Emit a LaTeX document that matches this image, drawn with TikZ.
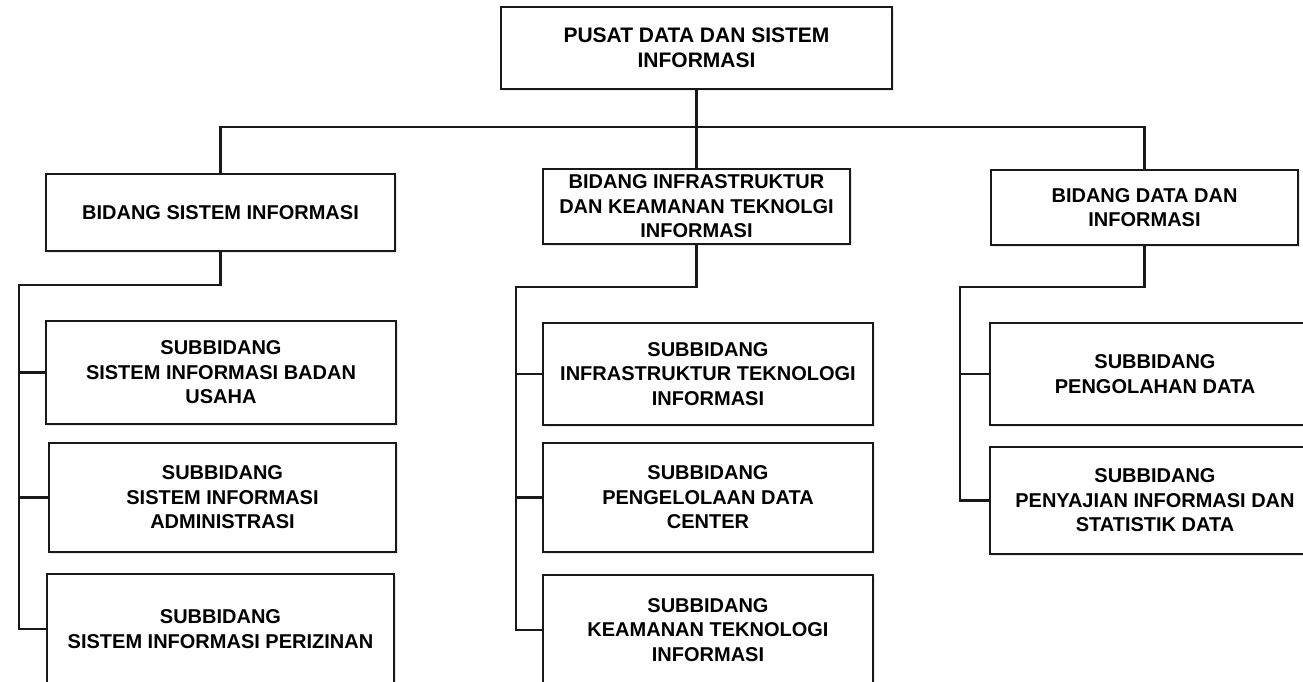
\documentclass[tikz,border=0pt]{standalone}
\usepackage{fontspec}
\setmainfont{Liberation Sans}
\usetikzlibrary{shadows}

\tikzset{
  unitbox/.style={draw=black!90, line width = 2.1pt, fill=white, align=center, inner sep=0pt,
    font=\bfseries\fontsize{20}{24.5}\selectfont,
    drop shadow={opacity=.18, shadow xshift=1.5pt, shadow yshift=-1.5pt}},
  link/.style={draw=black!90, line width = 2.1pt},
}

\begin{document}
\begin{tikzpicture}[x=1pt,y=-1pt]
\useasboundingbox (0,0) rectangle (1303,681);
\clip (0,0) rectangle (1303,681);

% top and bidang level
\node[unitbox, minimum width=391pt, minimum height=82pt, font=\bfseries\fontsize{21}{25}\selectfont] (pusat) at (696.5,48) {PUSAT DATA DAN SISTEM\\INFORMASI};
\node[unitbox, minimum width=349pt, minimum height=77pt] (bsi) at (220.5,212.5) {BIDANG SISTEM INFORMASI};
\node[unitbox, minimum width=307pt, minimum height=75pt] (bikti) at (696.5,206.5) {BIDANG INFRASTRUKTUR\\DAN KEAMANAN TEKNOLGI\\INFORMASI};
\node[unitbox, minimum width=307pt, minimum height=75pt] (bdi) at (1144.5,207.5) {BIDANG DATA DAN\\INFORMASI};

% subbidang, left
\node[unitbox, minimum width=350pt, minimum height=103pt] (si1) at (221,372.5) {SUBBIDANG\\SISTEM INFORMASI BADAN\\USAHA};
\node[unitbox, minimum width=347pt, minimum height=109pt] (si2) at (222.5,497.5) {SUBBIDANG\\SISTEM INFORMASI\\ADMINISTRASI};
\node[unitbox, minimum width=347pt, minimum height=110pt] (si3) at (220.5,629) {SUBBIDANG\\SISTEM INFORMASI PERIZINAN};

% subbidang, middle
\node[unitbox, minimum width=330pt, minimum height=102pt] (it1) at (708,374) {SUBBIDANG\\INFRASTRUKTUR TEKNOLOGI\\INFORMASI};
\node[unitbox, minimum width=330pt, minimum height=109pt] (it2) at (708,497.5) {SUBBIDANG\\PENGELOLAAN DATA\\CENTER};
\node[unitbox, minimum width=330pt, minimum height=110pt] (it3) at (708,630) {SUBBIDANG\\KEAMANAN TEKNOLOGI\\INFORMASI};

% subbidang, right
\node[unitbox, minimum width=330pt, minimum height=102pt] (di1) at (1155,374) {SUBBIDANG\\PENGOLAHAN DATA};
\node[unitbox, minimum width=330pt, minimum height=107pt] (di2) at (1155,500.5) {SUBBIDANG\\PENYAJIAN INFORMASI DAN\\STATISTIK DATA};

% connectors
\coordinate (bus) at (696.5,127.3);
\draw[link] (bsi.north) |- (bus) -| (bdi.north);
\draw[link] (pusat.south) -- (bikti.north);

\coordinate (siturn) at (18.6,285.3);
\draw[link] (bsi.south) |- (siturn) |- (si3.west);
\draw[link] (siturn |- si1.west) -- (si1.west);
\draw[link] (siturn |- si2.west) -- (si2.west);

\coordinate (itturn) at (516,287.3);
\draw[link] (bikti.south) |- (itturn) |- (it3.west);
\draw[link] (itturn |- it1.west) -- (it1.west);
\draw[link] (itturn |- it2.west) -- (it2.west);

\coordinate (diturn) at (960,287);
\draw[link] (bdi.south) |- (diturn) |- (di2.west);
\draw[link] (diturn |- di1.west) -- (di1.west);
\end{tikzpicture}
\end{document}
